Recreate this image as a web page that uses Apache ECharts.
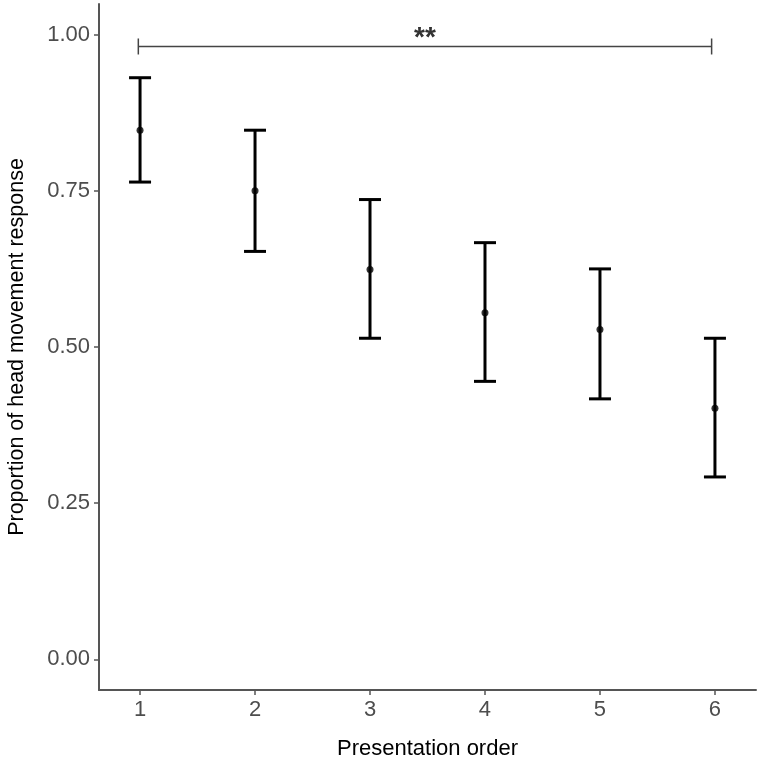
<!DOCTYPE html>
<html>
<head>
<meta charset="utf-8">
<script src="https://cdn.jsdelivr.net/npm/echarts@6/dist/echarts.min.js"></script>
<style>
html,body{margin:0;padding:0;background:#fff;}
#main{width:760px;height:761px;}
</style>
</head>
<body>
<div id="main"></div>
<script>
var orders=[1,2,3,4,5,6];
var meanData=[0.847,0.750,0.624,0.555,0.528,0.402];
var lowData=[0.764,0.653,0.514,0.445,0.417,0.292];
var highData=[0.931,0.847,0.736,0.667,0.625,0.514];
var yTicks=[0,0.25,0.5,0.75,1];
// significance bracket: from, to, height, label
var sigFrom=0.985;
var sigTo=5.971;
var sigY=0.981;
var sigLabel='**';

var errData=[];
var pointData=[];
for(var i=0;i<orders.length;i++){
	errData.push([orders[i],lowData[i],highData[i]]);
	pointData.push([orders[i],meanData[i]]);
}

var myChart=echarts.init(document.getElementById('main'));
var option={
	backgroundColor:'#fff',
	animation:false,
	textStyle:{fontFamily:'Liberation Sans, Arial, sans-serif'},
	grid:{left:99,right:4,top:4,bottom:71,containLabel:false,outerBoundsMode:'none'},
	xAxis:{
		type:'value',
		min:0.643,
		max:6.357,
		name:'Presentation order',
		nameLocation:'middle',
		nameGap:48,
		nameTextStyle:{color:'#000',fontSize:22},
		splitLine:{show:false},
		axisLine:{show:true,onZero:false,lineStyle:{color:'#555',width:2}},
		axisTick:{show:true,length:5,lineStyle:{color:'#555',width:1.5},customValues:orders},
		axisLabel:{color:'#4d4d4d',fontSize:22,margin:9,customValues:orders}
	},
	yAxis:{
		type:'value',
		min:-0.049,
		max:1.049,
		name:'Proportion of head movement response',
		nameLocation:'middle',
		nameGap:71,
		nameTextStyle:{color:'#000',fontSize:21.5},
		splitLine:{show:false},
		axisLine:{show:true,onZero:false,lineStyle:{color:'#555',width:2}},
		axisTick:{show:true,length:5,lineStyle:{color:'#555',width:1.5},customValues:yTicks},
		axisLabel:{color:'#4d4d4d',fontSize:22,margin:9,customValues:yTicks,
			formatter:function(v){return v.toFixed(2);}}
	},
	series:[
		{
			type:'custom',
			data:errData,
			renderItem:function(params,api){
				var top=api.coord([api.value(0),api.value(2)]);
				var bot=api.coord([api.value(0),api.value(1)]);
				var hw=11;
				var st={stroke:'#000',lineWidth:3};
				return {type:'group',children:[
					{type:'line',shape:{x1:top[0],y1:top[1],x2:bot[0],y2:bot[1]},style:st},
					{type:'line',shape:{x1:top[0]-hw,y1:top[1],x2:top[0]+hw,y2:top[1]},style:st},
					{type:'line',shape:{x1:bot[0]-hw,y1:bot[1],x2:bot[0]+hw,y2:bot[1]},style:st}
				]};
			}
		},
		{
			type:'scatter',
			data:pointData,
			symbol:'circle',
			symbolSize:7,
			itemStyle:{color:'#000'},
			z:5
		},
		{
			type:'custom',
			data:[[sigFrom,sigTo,sigY]],
			renderItem:function(params,api){
				var a=api.coord([api.value(0),api.value(2)]);
				var b=api.coord([api.value(1),api.value(2)]);
				var st={stroke:'#444',lineWidth:1.5};
				return {type:'group',children:[
					{type:'line',shape:{x1:a[0],y1:a[1],x2:b[0],y2:b[1]},style:st},
					{type:'line',shape:{x1:a[0],y1:a[1]-8,x2:a[0],y2:a[1]+8},style:st},
					{type:'line',shape:{x1:b[0],y1:b[1]-8,x2:b[0],y2:b[1]+8},style:st},
					{type:'text',style:{text:sigLabel,x:(a[0]+b[0])/2,y:a[1]-22,
						align:'center',verticalAlign:'top',fill:'#333',fontSize:28,
						fontWeight:'bold',fontFamily:'Liberation Sans, Arial, sans-serif'}}
				]};
			}
		}
	]
};
myChart.setOption(option);
</script>
</body>
</html>
